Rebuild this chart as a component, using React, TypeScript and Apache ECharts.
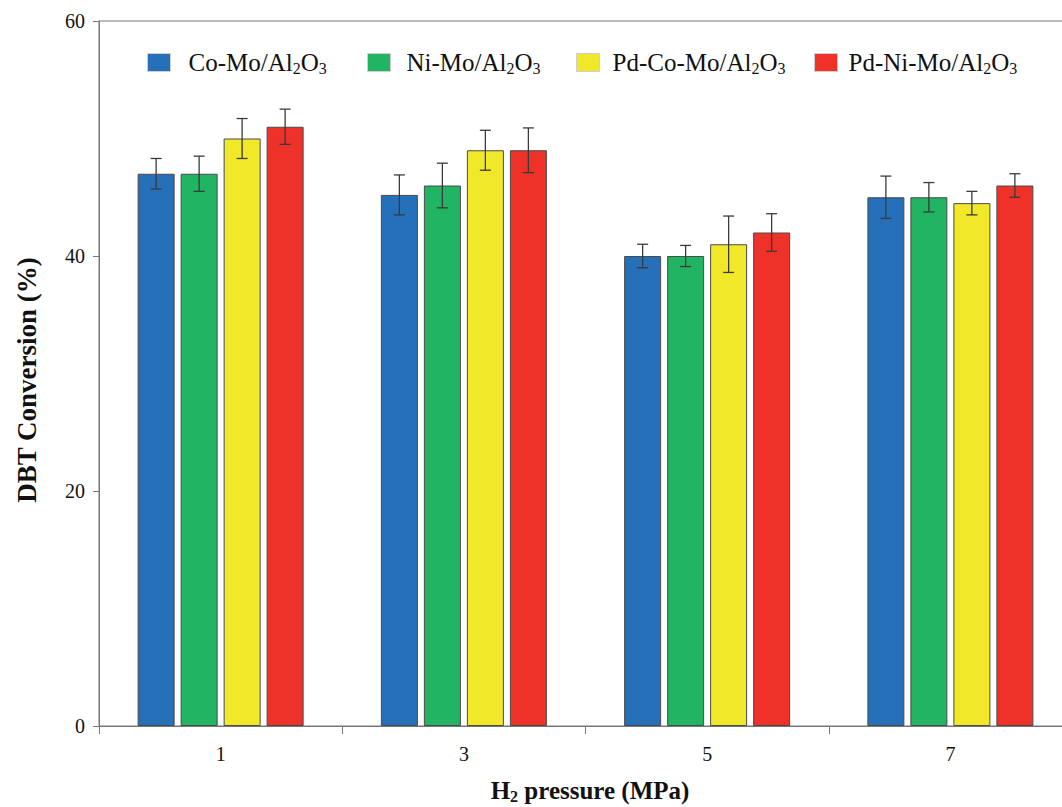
import React, { useEffect, useRef } from "react";
import * as echarts from "echarts";

const categories = ["1", "3", "5", "7"];
const seriesNames = ["Co-Mo/Al2O3", "Ni-Mo/Al2O3", "Pd-Co-Mo/Al2O3", "Pd-Ni-Mo/Al2O3"];
const coMo = [47, 45.2, 40, 45];
const niMo = [47, 46, 40, 45];
const pdCoMo = [50, 49, 41, 44.5];
const pdNiMo = [51, 49, 42, 46];
const coMoErr = [1.3, 1.7, 1.0, 1.8];
const niMoErr = [1.5, 1.9, 0.9, 1.25];
const pdCoMoErr = [1.7, 1.7, 2.4, 1.0];
const pdNiMoErr = [1.5, 1.9, 1.6, 1.0];
const yTicks = [0, 20, 40, 60];

const colors = ["#2670BA", "#21B463", "#F2E82A", "#EE322A"];
const FONT = "'Liberation Serif', 'Times New Roman', serif";
const BAR_W = 37;
const BAR_GAP = 6;
const legendLeft = [147, 367, 576, 814];
const legendTextPad = [13, 11, 8, 6];

const richLegend: Record<string, string> = {
  "Co-Mo/Al2O3": "{n|Co-Mo/Al}{s|2}{n|O}{s|3}",
  "Ni-Mo/Al2O3": "{n|Ni-Mo/Al}{s|2}{n|O}{s|3}",
  "Pd-Co-Mo/Al2O3": "{n|Pd-Co-Mo/Al}{s|2}{n|O}{s|3}",
  "Pd-Ni-Mo/Al2O3": "{n|Pd-Ni-Mo/Al}{s|2}{n|O}{s|3}",
};

export default function App() {
  const ref = useRef<HTMLDivElement>(null);
  useEffect(() => {
    if (!ref.current) return;
    const chart = echarts.init(ref.current, null, { renderer: "svg" });
    const values = [coMo, niMo, pdCoMo, pdNiMo];
    const errs = [coMoErr, niMoErr, pdCoMoErr, pdNiMoErr];

    const barSeries = values.map((v, i) => ({
      name: seriesNames[i],
      type: "bar",
      data: v,
      barWidth: BAR_W,
      barGap: (BAR_GAP / BAR_W) * 100 + "%",
      itemStyle: { color: colors[i], borderColor: "#4a4a4a", borderWidth: 1 },
      z: 2,
    }));

    const errSeries = values.map((v, i) => {
      const offset = (i - 1.5) * (BAR_W + BAR_GAP);
      return {
        name: seriesNames[i] + " err",
        type: "custom",
        data: v.map((val, j) => [j, val, errs[i][j]]),
        encode: { x: 0, y: 1 },
        z: 5,
        silent: true,
        renderItem: (params: any, api: any) => {
          const c = api.value(0);
          const val = api.value(1);
          const e = api.value(2);
          const top = api.coord([c, val + e]);
          const bot = api.coord([c, val - e]);
          const x = top[0] + offset;
          const hw = 5.5;
          const st = { stroke: "#3a3a3a", lineWidth: 1.3 };
          return {
            type: "group",
            children: [
              { type: "line", shape: { x1: x, y1: top[1], x2: x, y2: bot[1] }, style: st },
              { type: "line", shape: { x1: x - hw, y1: top[1], x2: x + hw, y2: top[1] }, style: st },
              { type: "line", shape: { x1: x - hw, y1: bot[1], x2: x + hw, y2: bot[1] }, style: st },
            ],
          };
        },
      };
    });

    const legends = seriesNames.map((name, i) => ({
      data: [name],
      left: legendLeft[i],
      top: 50,
      padding: 0,
      icon: "rect",
      itemWidth: 23,
      itemHeight: 18,
      itemStyle: { borderColor: "#cfcfcf", borderWidth: 1 },
      formatter: (n: string) => richLegend[n],
      textStyle: {
        fontFamily: FONT,
        color: "#111",
        padding: [0, 0, 0, legendTextPad[i]],
        rich: {
          n: { fontFamily: FONT, fontSize: 25, color: "#111", lineHeight: 28, verticalAlign: "middle" },
          s: { fontFamily: FONT, fontSize: 16, color: "#111", lineHeight: 14, verticalAlign: "bottom" },
        },
      },
    }));

    chart.setOption({
      animation: false,
      backgroundColor: "#ffffff",
      grid: {
        left: 99,
        right: 3,
        top: 21,
        bottom: 81,
        show: true,
        borderColor: "#777",
        borderWidth: 1,
        backgroundColor: "transparent",
      },
      legend: legends,
      xAxis: {
        type: "category",
        data: categories,
        axisLine: { lineStyle: { color: "#777", width: 1 } },
        axisTick: { show: true, length: 8, inside: false, lineStyle: { color: "#777" } },
        axisLabel: { fontFamily: FONT, fontSize: 20, color: "#111", margin: 18 },
      },
      yAxis: {
        type: "value",
        min: yTicks[0],
        max: yTicks[yTicks.length - 1],
        interval: 20,
        axisLine: { show: true, lineStyle: { color: "#777", width: 1 } },
        axisTick: { show: true, length: 6, lineStyle: { color: "#777" } },
        splitLine: { show: false },
        axisLabel: { fontFamily: FONT, fontSize: 20, color: "#111", margin: 14 },
      },
      graphic: [
        {
          type: "text",
          x: 27,
          y: 380,
          rotation: Math.PI / 2,
          style: {
            text: "DBT Conversion (%)",
            font: "bold 27px " + FONT,
            fill: "#111",
            align: "center",
            verticalAlign: "middle",
          },
        },
        {
          type: "text",
          x: 590,
          y: 790,
          style: {
            text: "{b|H}{bs|2}{b| pressure (MPa)}",
            align: "center",
            verticalAlign: "middle",
            rich: {
              b: { fontFamily: FONT, fontSize: 25, fontWeight: "bold", fill: "#111", lineHeight: 28, verticalAlign: "middle" },
              bs: { fontFamily: FONT, fontSize: 16, fontWeight: "bold", fill: "#111", lineHeight: 12, verticalAlign: "bottom" },
            },
          },
        },
      ],
      series: [...barSeries, ...errSeries],
    });
    return () => chart.dispose();
  }, []);
  return (
    <div style={{ position: "absolute", left: 0, top: 0, width: 1062, height: 807, overflow: "hidden", background: "#fff" }}>
      <div ref={ref} style={{ width: 1075, height: 807 }} />
    </div>
  );
}
